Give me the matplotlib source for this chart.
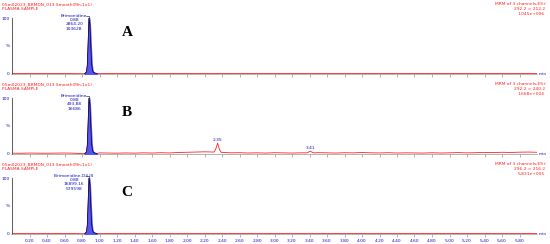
import numpy as np
import matplotlib
matplotlib.use("Agg")
import matplotlib.pyplot as plt

# tiempos de muestreo de la linea base (min)
base_t = [round(0.1 * i, 2) for i in range(61)]

# ruido de la linea base (%) por canal
noise_a = [0.3, 0.2, 0.4, 0.3, 0.2, 0.3, 0.4, 0.2, 0.3, 0.5, 0.4, 0.3, 0.2, 0.3, 0.2, 0.4,
           0.3, 0.2, 0.3, 0.4, 0.3, 0.2, 0.3, 0.2, 0.4, 0.3, 0.2, 0.3, 0.4, 0.3, 0.2, 0.3,
           0.4, 0.3, 0.2, 0.3, 0.2, 0.3, 0.4, 0.3, 0.2, 0.3, 0.4, 0.3, 0.2, 0.3, 0.4, 0.3,
           0.2, 0.3, 0.4, 0.3, 0.2, 0.3, 0.6, 0.4, 0.3, 0.5, 0.4, 0.3, 0.3]
noise_b = [1.0, 0.8, 1.2, 1.0, 0.9, 1.1, 1.3, 1.0, 1.2, 2.0, 1.5, 1.2, 1.0, 1.4, 1.1, 1.6,
           1.2, 1.8, 1.4, 2.2, 2.6, 3.0, 3.4, 3.2, 2.0, 1.6, 1.8, 1.3, 1.6, 1.2, 1.8, 1.5,
           1.2, 1.6, 1.4, 1.9, 1.6, 1.2, 1.8, 1.5, 2.2, 1.6, 1.4, 1.8, 1.3, 1.6, 1.4, 1.2,
           1.7, 1.3, 1.6, 2.0, 1.5, 1.8, 2.4, 2.0, 2.6, 2.2, 2.8, 3.0, 2.6]
noise_c = [0.4, 0.3, 0.5, 0.4, 0.3, 0.4, 0.5, 0.3, 0.4, 0.6, 0.5, 0.4, 0.3, 0.4, 0.3, 0.5,
           0.4, 0.3, 0.4, 0.5, 0.4, 0.3, 0.4, 0.3, 0.5, 0.4, 0.3, 0.4, 0.5, 0.4, 0.3, 0.4,
           0.5, 0.4, 0.3, 0.4, 0.3, 0.4, 0.5, 0.4, 0.3, 0.4, 0.5, 0.4, 0.3, 0.4, 0.5, 0.4,
           0.3, 0.4, 0.5, 0.4, 0.3, 0.4, 0.5, 0.4, 0.3, 0.4, 0.5, 0.4, 0.4]

# pico principal (brimonidina, 0.88 min)
peak_t = [0.83, 0.85, 0.86, 0.87, 0.88, 0.89, 0.90, 0.91, 0.92, 0.93, 0.95, 0.97]
peak_y = [0.0, 3.0, 14.0, 55.0, 100.0, 88.0, 50.0, 18.0, 6.0, 2.5, 1.0, 0.4]

# picos menores del canal B
minor_t = [2.31, 2.33, 2.35, 2.37, 2.39, 3.37, 3.39, 3.41, 3.43, 3.45]
minor_y = [3.0, 9.0, 19.0, 8.0, 2.5, 1.5, 3.0, 4.5, 2.5, 1.5]

headers = ["05m02023_BRMDN_013 Smooth(Mn,1x1)"] * 3
channels = ["292.2 > 212.2", "292.2 > 240.2", "296.2 > 216.2"]
intensities = ["1.045e+006", "1.668e+004", "5.831e+005"]
peak_names = ["Brimonidine", "Brimonidine", "Brimonidine-D4 IS"]
peak_areas = ["2864.20", "493.88", "16899.16"]
peak_heights = ["103628", "16686", "579598"]
letters = ["A", "B", "C"]

x_ticks = [round(0.2 * i, 2) for i in range(1, 30)]

red = "#ff2020"
blue = "#1010c0"
W, H = 550, 244
baselines = [74, 154, 234]
fs = 3.2

fig = plt.figure(figsize=(W / 100, H / 100), dpi=100)

for i in range(3):
    y0 = baselines[i]
    ax = fig.add_axes([12 / W, (H - y0) / H, 525 / W, 56 / H])
    ax.set_xlim(0, 6.0)
    ax.set_ylim(-0.5, 100)

    noise = [noise_a, noise_b, noise_c][i]
    # quitar linea base bajo el pico y juntar
    pts = [(a, b) for a, b in zip(base_t, noise) if not (0.80 <= a <= 0.98)]
    pts += list(zip(peak_t, peak_y))
    if i == 1:
        pts = [(a, b) for a, b in pts if not (2.29 <= a <= 2.41 or 3.35 <= a <= 3.47)]
        pts += list(zip(minor_t, minor_y))
    pts.sort()
    tt = np.array([p[0] for p in pts])
    yy = np.array([p[1] for p in pts])

    ax.plot(tt, yy, color=red, lw=0.6, zorder=2)
    m = (tt >= peak_t[0]) & (tt <= peak_t[-1])
    ax.fill_between(tt[m], 0, yy[m], color="#5555ee", zorder=3)
    ax.plot(tt[m], yy[m], color="#000033", lw=0.5, zorder=4)
    ax.plot([peak_t[0], peak_t[-1]], [0, 0], color="black", lw=0.5, zorder=4)

    for s in ["top", "right"]:
        ax.spines[s].set_visible(False)
    ax.spines["left"].set_color("#444444")
    ax.spines["left"].set_linewidth(0.6)
    ax.spines["bottom"].set_color("#999999")
    ax.spines["bottom"].set_linewidth(0.5)

    ax.set_yticks([0, 50, 100])
    ax.set_yticklabels(["0", "%", "100"], fontsize=fs, color=blue)
    ax.tick_params(axis="y", length=0, pad=1.5)
    ax.set_xticks(x_ticks)
    ax.set_xticks([round(0.05 * k, 2) for k in range(0, 120)], minor=True)
    ax.tick_params(axis="x", which="major", length=2, width=0.4, color="#777777",
                   labelsize=fs, labelcolor=blue, pad=1.5)
    ax.tick_params(axis="x", which="minor", length=1, width=0.3, color="#999999")
    if i < 2:
        ax.set_xticklabels([])
    else:
        ax.set_xticklabels([f"{v:.2f}" for v in x_ticks])

    # encabezados
    fig.text(2 / W, 1 - (y0 - 70) / H, headers[i], fontsize=fs, color=red, va="center")
    fig.text(2 / W, 1 - (y0 - 64.5) / H, "PLASMA SAMPLE", fontsize=fs, color=red,
             va="center")
    fig.text(547 / W, 1 - (y0 - 70) / H, "MRM of 3 channels,ES+", fontsize=fs, color=red,
             va="center", ha="right")
    fig.text(545 / W, 1 - (y0 - 65) / H, channels[i], fontsize=fs, color=red,
             va="center", ha="right")
    fig.text(545 / W, 1 - (y0 - 60) / H, intensities[i], fontsize=fs, color=red,
             va="center", ha="right")
    fig.text(539 / W, 1 - y0 / H, "min", fontsize=fs, color=blue, va="center")

    # etiqueta del pico
    ax.text(0.71, 108, f"{peak_names[i]}\n0.88\n{peak_areas[i]}\n{peak_heights[i]}",
            fontsize=fs, color=blue, ha="center", va="top", linespacing=1.15,
            clip_on=False)
    ax.plot([0.84, 0.88, 0.88], [103, 103, 100], color="#000044", lw=0.4,
            clip_on=False)

    if i == 1:
        ax.text(2.35, 21, "2.35", fontsize=fs, color=blue, ha="center", va="bottom")
        ax.text(3.41, 6, "3.41", fontsize=fs, color=blue, ha="center", va="bottom")

    fig.text(127 / W, 1 - (y0 - 41) / H, letters[i], fontsize=11, fontweight="bold",
             family="Liberation Serif", ha="center", va="center")

fig.savefig("out.png", dpi=100)
